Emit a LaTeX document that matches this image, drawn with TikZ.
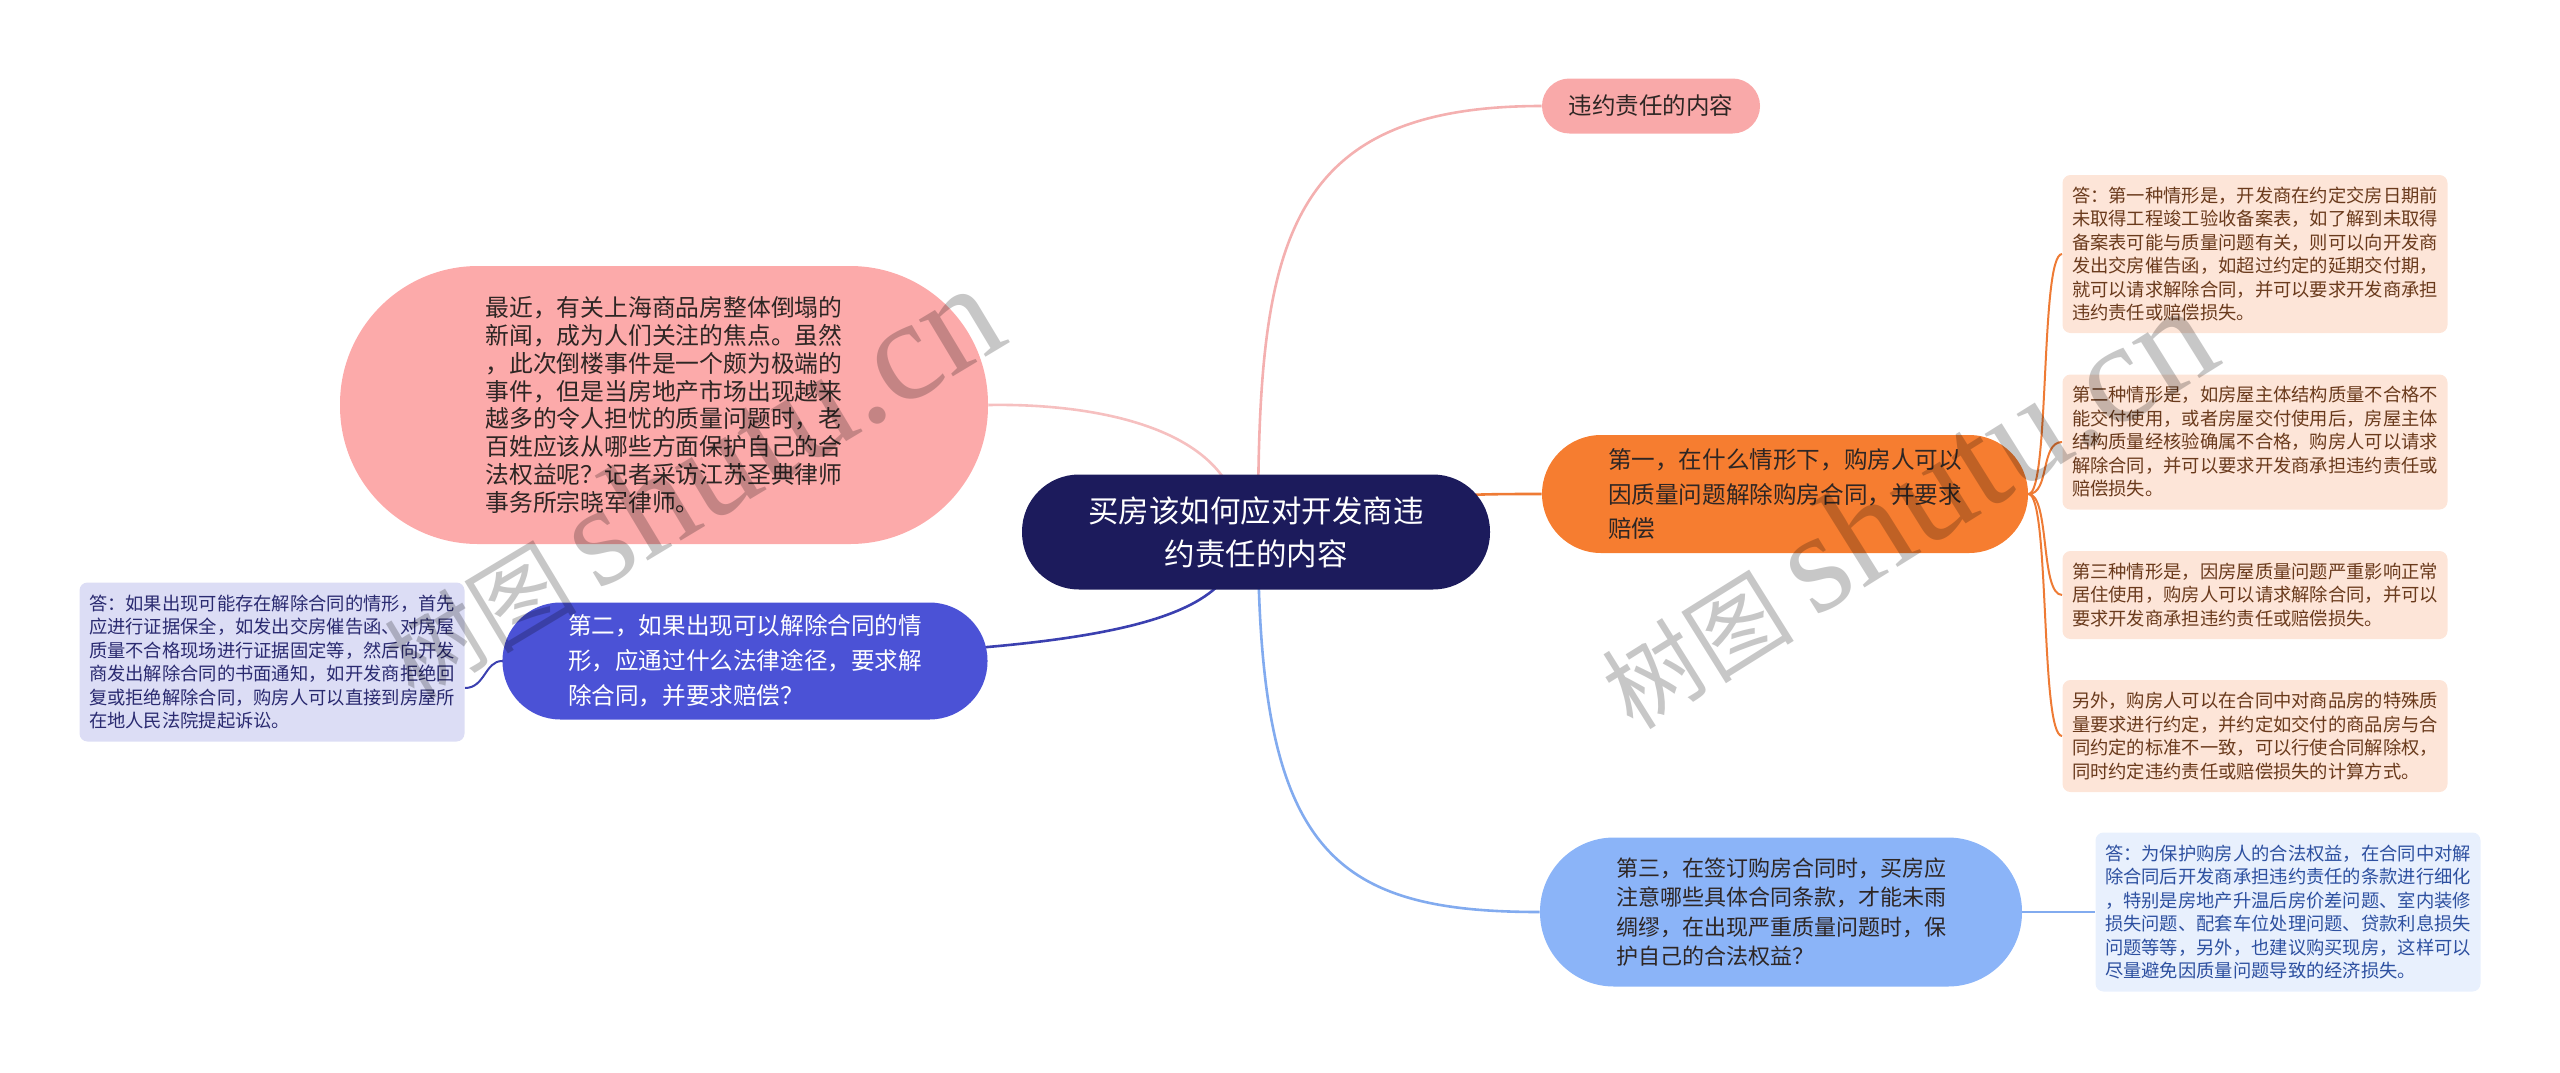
\documentclass[tikz,border=0pt]{standalone}
\usepackage{fontspec}
\setmainfont{Noto Sans CJK SC}
\newfontfamily\wmlatin{Liberation Serif}
\pgfdeclarelayer{bg}
\pgfsetlayers{bg,main}
\definecolor{navy}{HTML}{1C1B5C}
\definecolor{pinkbig}{HTML}{FCAAAA}
\definecolor{pinktop}{HTML}{F9A9A9}
\definecolor{pinkline}{HTML}{F4B0B0}
\definecolor{bluel}{HTML}{4B52D6}
\definecolor{blueline}{HTML}{3B40B0}
\definecolor{orangen}{HTML}{F67D30}
\definecolor{orangeline}{HTML}{EE7B35}
\definecolor{orangeleaf}{HTML}{FDE5D8}
\definecolor{orangetext}{HTML}{6A3A1C}
\definecolor{lblue}{HTML}{8BB4F8}
\definecolor{lbline}{HTML}{82ABEF}
\definecolor{lbleaf}{HTML}{E8F0FD}
\definecolor{lbtext}{HTML}{2D50A0}
\definecolor{lav}{HTML}{DCDDF5}
\definecolor{lavtext}{HTML}{2A2A70}
\definecolor{dtext}{HTML}{2E2624}
\tikzset{
  box/.style={inner sep=0pt, align=left},
  leaf/.style={box, rounded corners=4pt, minimum width=192.5pt,
    font=\fontsize{9.15pt}{11.75pt}\selectfont},
  conn/.style={line width=1.3pt},
  leafconn/.style={line width=1pt},
  wm/.style={text=black, opacity=0.22, inner sep=0pt},
}
\begin{document}
\begin{tikzpicture}[x=0.5pt,y=-0.5pt]
\useasboundingbox (0,0) rectangle (2560,1072);

% central node
\node[box, align=center, fill=navy, text=white, rounded corners=28.5pt,
  minimum width=234pt, minimum height=57.5pt,
  font=\fontsize{15.25pt}{21.5pt}\selectfont] (c) at (1256,532)
  {买房该如何应对开发商违\\约责任的内容};

% top pink
\node[box, align=center, fill=pinktop, text=dtext, rounded corners=13.7pt,
  minimum width=109pt, minimum height=27.5pt,
  font=\fontsize{11.75pt}{14pt}\selectfont] (tp) at (1651,106)
  {违约责任的内容};

% big pink
\node[box, fill=pinkbig, text=dtext, rounded corners=69pt,
  minimum width=324pt, minimum height=139pt,
  font=\fontsize{11.9pt}{13.9pt}\selectfont] (bp) at (664,405)
  {最近，有关上海商品房整体倒塌的\\新闻，成为人们关注的焦点。虽然\\，此次倒楼事件是一个颇为极端的\\事件，但是当房地产市场出现越来\\越多的令人担忧的质量问题时，老\\百姓应该从哪些方面保护自己的合\\法权益呢？记者采访江苏圣典律师\\事务所宗晓军律师。};

% blue left
\node[box, fill=bluel, text=white, rounded corners=29pt,
  minimum width=242.5pt, minimum height=58.5pt,
  font=\fontsize{11.8pt}{17.5pt}\selectfont] (bl) at (745,661)
  {第二，如果出现可以解除合同的情\\形，应通过什么法律途径，要求解\\除合同，并要求赔偿？};

% lavender leaf
\node[leaf, fill=lav, text=lavtext, minimum height=79.5pt] (lv) at (272,662)
  {答：如果出现可能存在解除合同的情形，首先\\应进行证据保全，如发出交房催告函、对房屋\\质量不合格现场进行证据固定等，然后向开发\\商发出解除合同的书面通知，如开发商拒绝回\\复或拒绝解除合同，购房人可以直接到房屋所\\在地人民法院提起诉讼。};

% orange
\node[box, fill=orangen, text=dtext, rounded corners=29.5pt,
  minimum width=243pt, minimum height=59pt,
  font=\fontsize{11.8pt}{17.2pt}\selectfont] (or) at (1785,494)
  {第一，在什么情形下，购房人可以\\因质量问题解除购房合同，并要求\\赔偿};

% orange leaves
\node[leaf, fill=orangeleaf, text=orangetext, minimum height=79pt] (o1) at (2255,254)
  {答：第一种情形是，开发商在约定交房日期前\\未取得工程竣工验收备案表，如了解到未取得\\备案表可能与质量问题有关，则可以向开发商\\发出交房催告函，如超过约定的延期交付期，\\就可以请求解除合同，并可以要求开发商承担\\违约责任或赔偿损失。};
\node[leaf, fill=orangeleaf, text=orangetext, minimum height=67.5pt] (o2) at (2255,442)
  {第二种情形是，如房屋主体结构质量不合格不\\能交付使用，或者房屋交付使用后，房屋主体\\结构质量经核验确属不合格，购房人可以请求\\解除合同，并可以要求开发商承担违约责任或\\赔偿损失。};
\node[leaf, fill=orangeleaf, text=orangetext, minimum height=44pt] (o3) at (2255,595)
  {第三种情形是，因房屋质量问题严重影响正常\\居住使用，购房人可以请求解除合同，并可以\\要求开发商承担违约责任或赔偿损失。};
\node[leaf, fill=orangeleaf, text=orangetext, minimum height=56pt] (o4) at (2255,736)
  {另外，购房人可以在合同中对商品房的特殊质\\量要求进行约定，并约定如交付的商品房与合\\同约定的标准不一致，可以行使合同解除权，\\同时约定违约责任或赔偿损失的计算方式。};

% light blue
\node[box, fill=lblue, text=dtext, rounded corners=37pt,
  minimum width=241pt, minimum height=74.5pt,
  font=\fontsize{11pt}{14.7pt}\selectfont] (lb) at (1781,912)
  {第三，在签订购房合同时，买房应\\注意哪些具体合同条款，才能未雨\\绸缪，在出现严重质量问题时，保\\护自己的合法权益？};

% light blue leaf
\node[leaf, fill=lbleaf, text=lbtext, minimum height=79.5pt] (lbl) at (2288,912)
  {答：为保护购房人的合法权益，在合同中对解\\除合同后开发商承担违约责任的条款进行细化\\，特别是房地产升温后房价差问题、室内装修\\损失问题、配套车位处理问题、贷款利息损失\\问题等等，另外，也建议购买现房，这样可以\\尽量避免因质量问题导致的经济损失。};

% connectors
\begin{pgfonlayer}{bg}
  \draw[conn, pinkline] ([xshift=1pt]c.center) .. controls (1258,250) and (1280,106) .. (tp.west);
  \draw[conn, pinkline!80!white] ([xshift=-8pt]c.center) .. controls (1240,430) and (1100,403) .. (bp.east);
  \draw[conn, blueline] ([xshift=-8pt]c.center) .. controls (1240,630) and (1100,661) .. (bl.west);
  \draw[conn, lbline] ([xshift=1pt]c.center) .. controls (1258,850) and (1330,912) .. (lb.west);
  \draw[conn, orangeline] ([xshift=22pt]c.center) .. controls (1400,494) and (1450,494) .. (or.west);
  \draw[leafconn, blueline] (bl.west) .. controls (485,661) and (485,688) .. ([yshift=-13pt]lv.east);
  \draw[leafconn, lbline] (lb.east) -- (lbl.west);
  \foreach \n in {o1,o2,o3,o4}
    \draw[leafconn, orangeline] (or.east) .. controls (2050,494) and (2040,0|-\n.west) .. (\n.west);
\end{pgfonlayer}

% watermarks
\node[wm, rotate=31] (wm1) at (690,482)
  {\fontsize{48pt}{48pt}\selectfont 树图 {\wmlatin\fontsize{72pt}{72pt}\selectfont shutu.cn}};
\node[wm, rotate=32] (wm2) at (1905,508)
  {\fontsize{48pt}{48pt}\selectfont 树图 {\wmlatin\fontsize{72pt}{72pt}\selectfont shutu.cn}};
\end{tikzpicture}
\end{document}
